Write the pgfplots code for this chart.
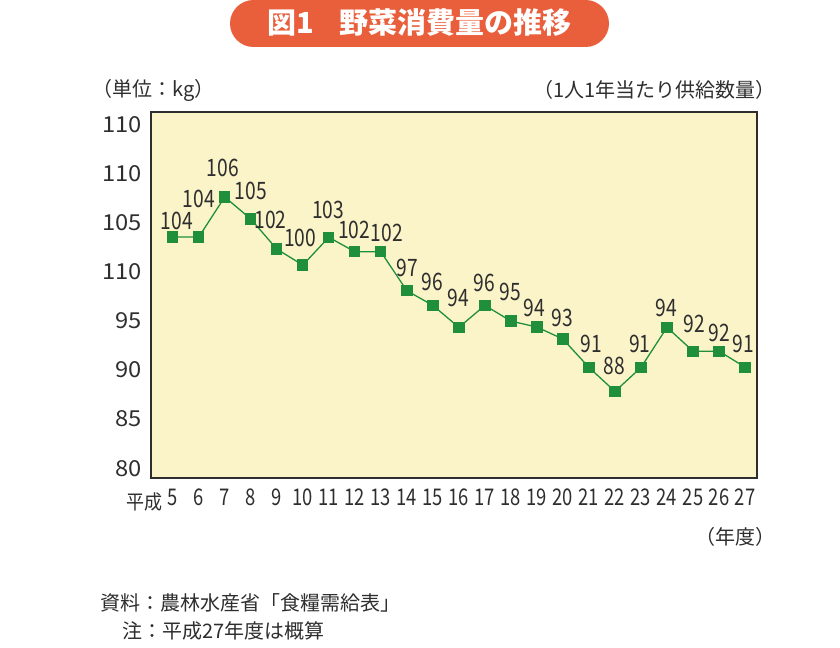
\documentclass[border=0pt]{standalone}
\usepackage{pgfplots}
\pgfplotsset{compat=1.18}
\usepackage{graphicx}
\usepackage{fontspec}
\setmainfont{Noto Sans CJK JP}
\definecolor{bg}{HTML}{FBF4C9}
\definecolor{grn}{HTML}{1F8F3C}
\definecolor{org}{HTML}{E95E3B}
\definecolor{txt}{HTML}{2E2E2E}
\newcommand{\cond}[1]{\scalebox{0.8}[1]{#1}}
\newcommand{\wide}[1]{\scalebox{1.08}[1]{#1}}
\pgfplotstableread{
x y
5 103.52
6 103.52
7 107.60
8 105.36
9 102.30
10 100.67
11 103.50
12 102.03
13 102.03
14 98.06
15 96.57
16 94.33
17 96.57
18 94.97
19 94.36
20 93.14
21 90.25
22 87.81
23 90.25
24 94.33
25 91.91
26 91.91
27 90.28
}\datatable
\begin{document}
\begin{tikzpicture}
\useasboundingbox (-151bp,-170bp) rectangle (689bp,478bp);
\begin{axis}[
  at={(0,0)}, anchor=south west,
  scale only axis, width=606bp, height=366bp,
  xmin=4.165, xmax=27.46, ymin=79, ymax=116.25,
  axis line style={draw=txt, line width=1.6bp},
  axis background/.style={fill=bg},
  xtick={5,...,27},
  xticklabels={\cond{5},\cond{6},\cond{7},\cond{8},\cond{9},\cond{10},\cond{11},\cond{12},\cond{13},\cond{14},\cond{15},\cond{16},\cond{17},\cond{18},\cond{19},\cond{20},\cond{21},\cond{22},\cond{23},\cond{24},\cond{25},\cond{26},\cond{27}},
  ytick={80,85,90,95,100,105,110,115},
  yticklabels={\wide{80},\wide{85},\wide{90},\wide{95},\wide{110},\wide{105},\wide{110},\wide{110}},
  major tick length=0pt,
  x tick label style={font=\fontsize{23bp}{23bp}\selectfont, text=txt, anchor=north, yshift=-11bp, inner sep=0pt},
  y tick label style={font=\fontsize{22bp}{22bp}\selectfont, text=txt, anchor=east, xshift=-9bp, inner sep=0pt},
  clip=false,
]
\addplot[grn, line width=1.3bp, mark=square*, mark size=5bp, mark options={fill=grn, draw=grn}] table[x=x,y=y] {\datatable};
\begin{scope}[every node/.style={font=\fontsize{24bp}{24bp}\selectfont, text=txt, inner sep=0pt}]
\node at (axis cs:5.154,105.18) {\cond{104}};
\node at (axis cs:6.0,107.39) {\cond{104}};
\node at (axis cs:6.923,110.52) {\cond{106}};
\node at (axis cs:8.0,108.24) {\cond{105}};
\node at (axis cs:8.754,105.25) {\cond{102}};
\node at (axis cs:9.896,103.45) {\cond{100}};
\node at (axis cs:10.973,106.27) {\cond{103}};
\node at (axis cs:11.97,104.24) {\cond{102}};
\node at (axis cs:13.23,103.9) {\cond{102}};
\node at (axis cs:14.01,100.37) {\cond{97}};
\node at (axis cs:14.985,98.97) {\cond{96}};
\node at (axis cs:15.985,97.34) {\cond{94}};
\node at (axis cs:16.97,98.87) {\cond{96}};
\node at (axis cs:17.97,97.89) {\cond{95}};
\node at (axis cs:18.91,96.32) {\cond{94}};
\node at (axis cs:19.98,95.31) {\cond{93}};
\node at (axis cs:21.1,92.6) {\cond{91}};
\node at (axis cs:21.97,90.42) {\cond{88}};
\node at (axis cs:22.95,92.6) {\cond{91}};
\node at (axis cs:23.97,96.32) {\cond{94}};
\node at (axis cs:25.05,94.73) {\cond{92}};
\node at (axis cs:26.02,93.72) {\cond{92}};
\node at (axis cs:26.94,92.63) {\cond{91}};
\end{scope}
\end{axis}
% title
\fill[org, rounded corners=23.5bp] (79bp,431bp) rectangle (458bp,478bp);
\node[text=white, font=\fontsize{29bp}{29bp}\selectfont\bfseries] at (268.5bp,455bp) {図1\hspace{0.9em}野菜消費量の推移};
\begin{scope}[every node/.style={text=txt, inner sep=0pt, font=\fontsize{20bp}{20bp}\selectfont}]
\node[anchor=west] at (-59bp,388bp) {（単位：kg）};
\node[anchor=east] at (625bp,388bp) {（1人1年当たり供給数量）};
\node[anchor=east] at (12bp,-24bp) {\scalebox{0.9}[1]{平成}};
\node[anchor=east] at (625bp,-59bp) {（年度）};
\node[anchor=west] at (-51bp,-125bp) {資料：農林水産省「食糧需給表」};
\node[anchor=west] at (-29bp,-153bp) {注：平成27年度は概算};
\end{scope}
\end{tikzpicture}
\end{document}
